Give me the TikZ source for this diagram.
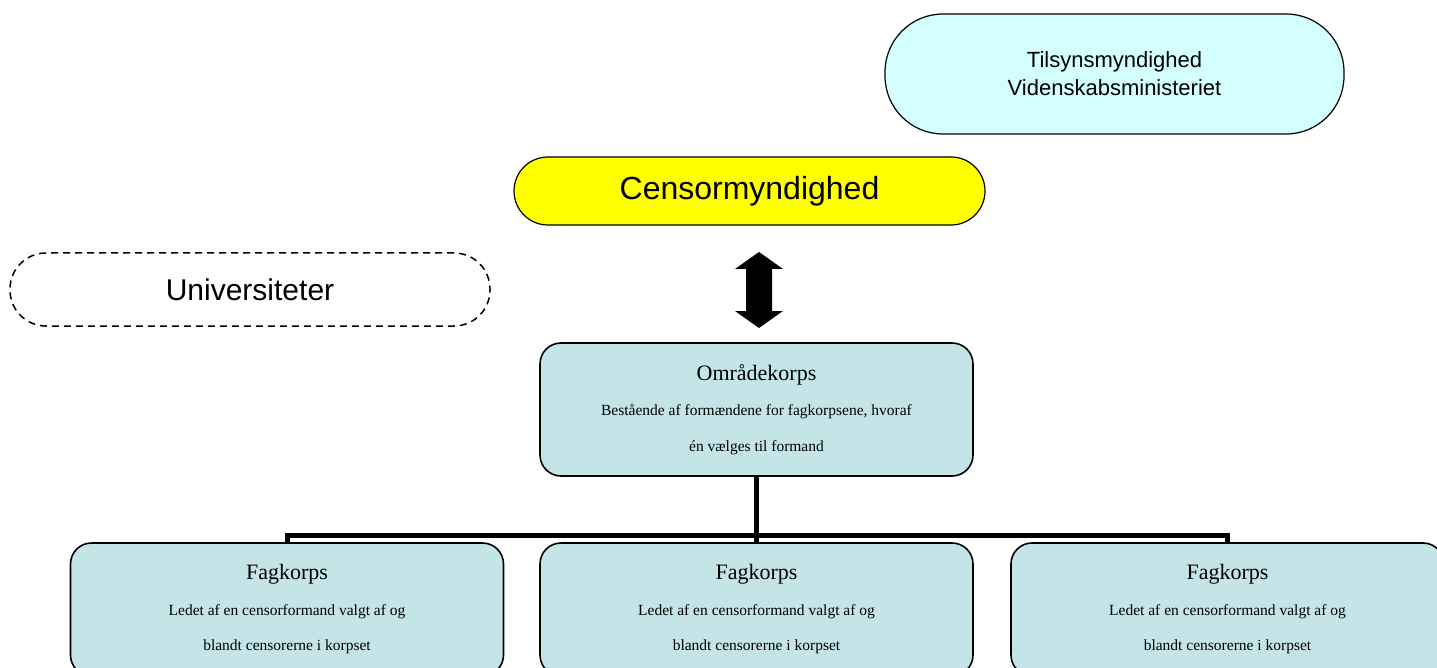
\documentclass[tikz,border=0pt]{standalone}
\usepackage{fontspec}
\setmainfont{Liberation Serif}
\setsansfont{Liberation Sans}
\definecolor{colY}{rgb}{1,1,0}
\definecolor{colT}{rgb}{.831,1,1}
\definecolor{colK}{rgb}{.77,.894,.91}
\newcommand{\ktitle}{\fontsize{22}{36}\selectfont}
\newcommand{\kbody}{\fontsize{15.5}{35.5}\selectfont}
\tikzstyle{box}=[draw, inner sep=0pt, align=center]
\tikzstyle{pill}=[box, line width=1.2pt, font=\sffamily]
\tikzstyle{korps}=[box, line width=1.6pt, fill=colK, rounded corners=21pt, minimum width=433pt, minimum height=133pt, font=\kbody]
\tikzstyle{conn}=[line width=5pt, black]

\begin{document}
\begin{tikzpicture}[x=1pt,y=-1pt]
		\useasboundingbox (0,0) rectangle (1437,668);
		\clip (0,0) rectangle (1437,668);
		\node[pill, fill=colT, rounded corners=58pt, minimum width=459pt, minimum height=120pt, font=\sffamily\fontsize{22}{28}\selectfont] (tils) at (1114.5,74) {Tilsynsmyndighed\\ Videnskabsministeriet};
		\node[pill, fill=colY, rounded corners=34pt, minimum width=471pt, minimum height=68pt] (cens) at (749.5,191) {\fontsize{32}{38}\selectfont Censormyndighed};
		\node[pill, line width=1.5pt, dash pattern=on 7pt off 5pt, rounded corners=36pt, minimum width=480pt, minimum height=73pt] (univ) at (250,289.5) {\fontsize{30}{36}\selectfont Universiteter};
		\node[korps] (omr) at (756.5,409.5) {{\ktitle Områdekorps}\\ Bestående af formændene for fagkorpsene, hvoraf\\ én vælges til formand};
		\node[korps] (fk1) at (287,609.5) {{\ktitle Fagkorps}\\ Ledet af en censorformand valgt af og\\ blandt censorerne i korpset};
		\node[korps] (fk2) at (756.5,609.5) {{\ktitle Fagkorps}\\ Ledet af en censorformand valgt af og\\ blandt censorerne i korpset};
		\node[korps] (fk3) at (1227.5,609.5) {{\ktitle Fagkorps}\\ Ledet af en censorformand valgt af og\\ blandt censorerne i korpset};
		\coordinate (dbl) at (759,290);
		\coordinate (bus) at (756.5,535);
		\fill[black, shift={(dbl)}] (0,-38) -- (24,-21) -- (13,-21) -- (13,21) -- (24,21) -- (0,38) -- (-24,21) -- (-13,21) -- (-13,-21) -- (-24,-21) -- cycle;
		\draw[conn] (omr.south) -- (fk2.north);
		\draw[conn] (fk1.north) -- (fk1.north |- bus) -- (fk3.north |- bus) -- (fk3.north);
	\end{tikzpicture}
\end{document}
